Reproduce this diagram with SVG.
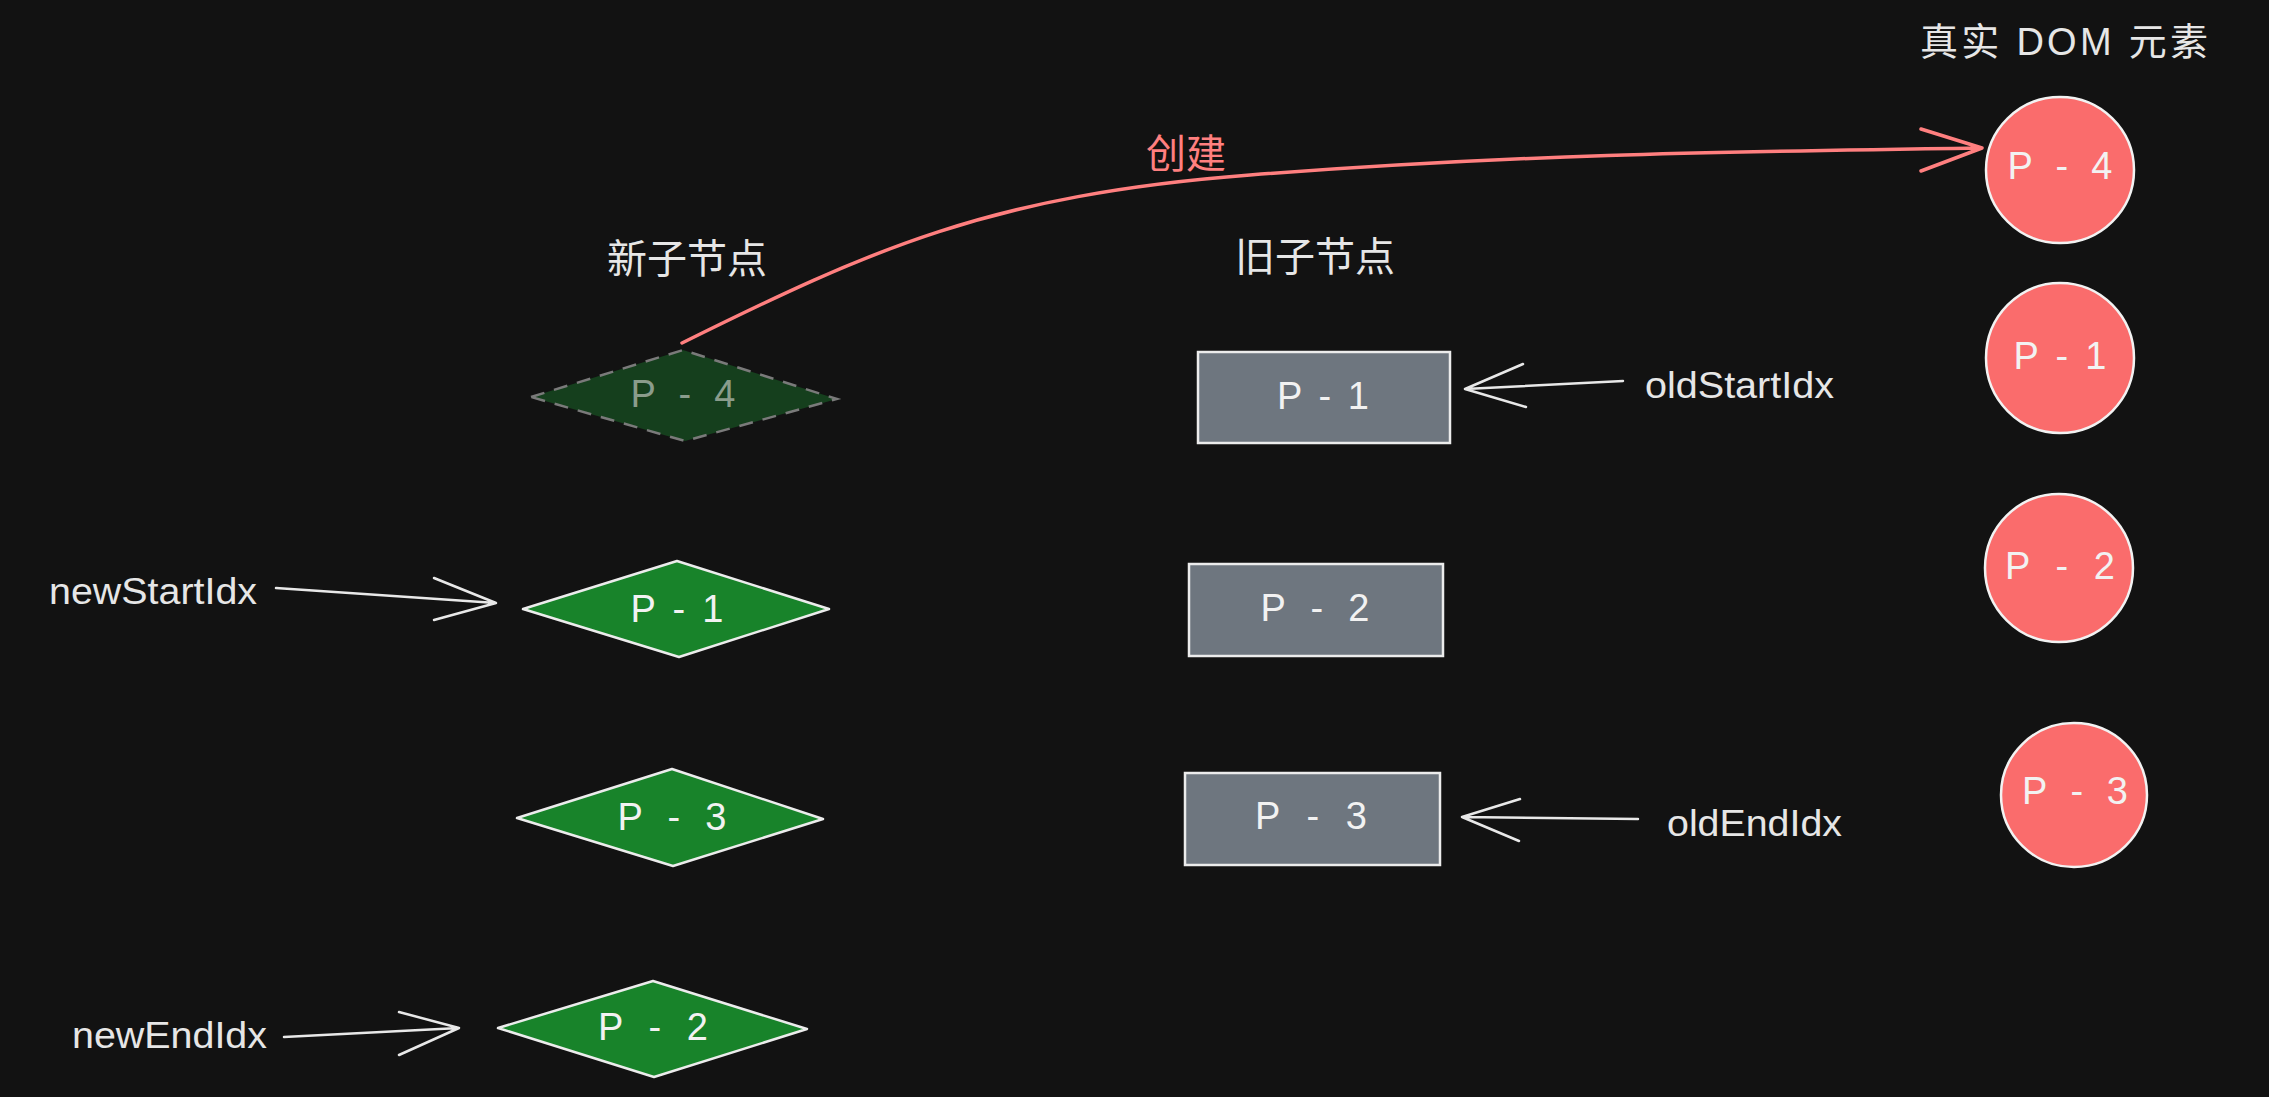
<svg xmlns="http://www.w3.org/2000/svg" width="2269" height="1097" viewBox="0 0 2269 1097">
<style>
.bg{fill:#121212}
.lbl{font-family:"Liberation Sans","Noto Sans CJK SC",sans-serif;fill:#e6e6e6}
.cjk{font-family:"Noto Sans CJK SC","Liberation Sans",sans-serif;font-size:40px;fill:#e6e6e6}
.red{fill:#ff7f7f}
.pt{font-family:"Liberation Sans",sans-serif;font-size:38px;fill:#f2f2f2;text-anchor:middle}
.dia{fill:#18832a;stroke:#ececec;stroke-width:2.5;stroke-linejoin:round}
.dia-ghost{fill:#153f1d;stroke:#7a7a7a;stroke-width:2.5;stroke-dasharray:14 10}
.rect{fill:#6e767f;stroke:#ececec;stroke-width:2.5}
.circ{fill:#fa6c6c;stroke:#f2f2f2;stroke-width:2.5}
.conn{fill:none;stroke:#e8e8e8;stroke-width:2.5;stroke-linecap:round;stroke-linejoin:round}
.conn-red{fill:none;stroke:#ff7f7f;stroke-width:3.5;stroke-linecap:round;stroke-linejoin:round}
</style>
<rect class="bg" x="0" y="0" width="2269" height="1097"/>

<g id="title-dom"><text class="lbl" x="1920" y="55" font-size="38" textLength="288" lengthAdjust="spacing">真实 DOM 元素</text></g>
<g id="title-new"><text class="cjk" x="607" y="273">新子节点</text></g>
<g id="title-old"><text class="cjk" x="1235" y="271">旧子节点</text></g>

<g id="new-p4">
<polygon class="dia-ghost" points="531,397 683,350 837,399 685,441"/>
<text class="pt" x="683" y="407" textLength="105" lengthAdjust="spacing" style="fill:#8a9c8c">P - 4</text>
</g>
<g id="new-p1">
<polygon class="dia" points="523,609 677,561 829,609 679,657"/>
<text class="pt" x="677" y="622" textLength="93" lengthAdjust="spacing">P - 1</text>
</g>
<g id="new-p3">
<polygon class="dia" points="517,818 672,769 823,819 673,866"/>
<text class="pt" x="672" y="830" textLength="109" lengthAdjust="spacing">P - 3</text>
</g>
<g id="new-p2">
<polygon class="dia" points="498,1028 653,981 807,1029 654,1077"/>
<text class="pt" x="653" y="1040" textLength="110" lengthAdjust="spacing">P - 2</text>
</g>

<g id="old-p1">
<rect class="rect" x="1198" y="352" width="252" height="91"/>
<text class="pt" x="1323" y="409" textLength="92" lengthAdjust="spacing">P - 1</text>
</g>
<g id="old-p2">
<rect class="rect" x="1189" y="564" width="254" height="92"/>
<text class="pt" x="1315" y="621" textLength="109" lengthAdjust="spacing">P - 2</text>
</g>
<g id="old-p3">
<rect class="rect" x="1185" y="773" width="255" height="92"/>
<text class="pt" x="1311" y="829" textLength="112" lengthAdjust="spacing">P - 3</text>
</g>

<g id="dom-p4">
<ellipse class="circ" cx="2060" cy="170" rx="74" ry="73"/>
<text class="pt" x="2060" y="179" textLength="105" lengthAdjust="spacing">P - 4</text>
</g>
<g id="dom-p1">
<ellipse class="circ" cx="2060" cy="358" rx="74" ry="75"/>
<text class="pt" x="2060" y="369" textLength="93" lengthAdjust="spacing">P - 1</text>
</g>
<g id="dom-p2">
<ellipse class="circ" cx="2059" cy="568" rx="74" ry="74"/>
<text class="pt" x="2060" y="579" textLength="110" lengthAdjust="spacing">P - 2</text>
</g>
<g id="dom-p3">
<ellipse class="circ" cx="2074" cy="795" rx="73" ry="72"/>
<text class="pt" x="2075" y="804" textLength="106" lengthAdjust="spacing">P - 3</text>
</g>

<g id="label-newStartIdx"><text class="lbl" x="49" y="604" font-size="37" textLength="208" lengthAdjust="spacingAndGlyphs">newStartIdx</text></g>
<g id="label-newEndIdx"><text class="lbl" x="72" y="1048" font-size="37" textLength="195" lengthAdjust="spacingAndGlyphs">newEndIdx</text></g>
<g id="label-oldStartIdx"><text class="lbl" x="1645" y="398" font-size="37" textLength="189" lengthAdjust="spacingAndGlyphs">oldStartIdx</text></g>
<g id="label-oldEndIdx"><text class="lbl" x="1667" y="836" font-size="37" textLength="175" lengthAdjust="spacingAndGlyphs">oldEndIdx</text></g>

<g id="connectors">
<path class="conn" d="M276,588 L496,603 M434,578 L496,603 L434,620"/>
<path class="conn" d="M284,1037 L459,1028 M399,1012 L459,1028 L399,1055"/>
<path class="conn" d="M1623,381 L1465,389 M1523,364 L1465,389 L1526,407"/>
<path class="conn" d="M1638,819 L1462,817 M1520,799 L1462,817 L1519,841"/>
<path class="conn-red" d="M682,343 C870,250 990,195 1250,175 S1700,152 1982,148 M1921,129 L1982,148 L1921,171"/>
<text class="cjk red" x="1146" y="168">创建</text>
</g>
</svg>
